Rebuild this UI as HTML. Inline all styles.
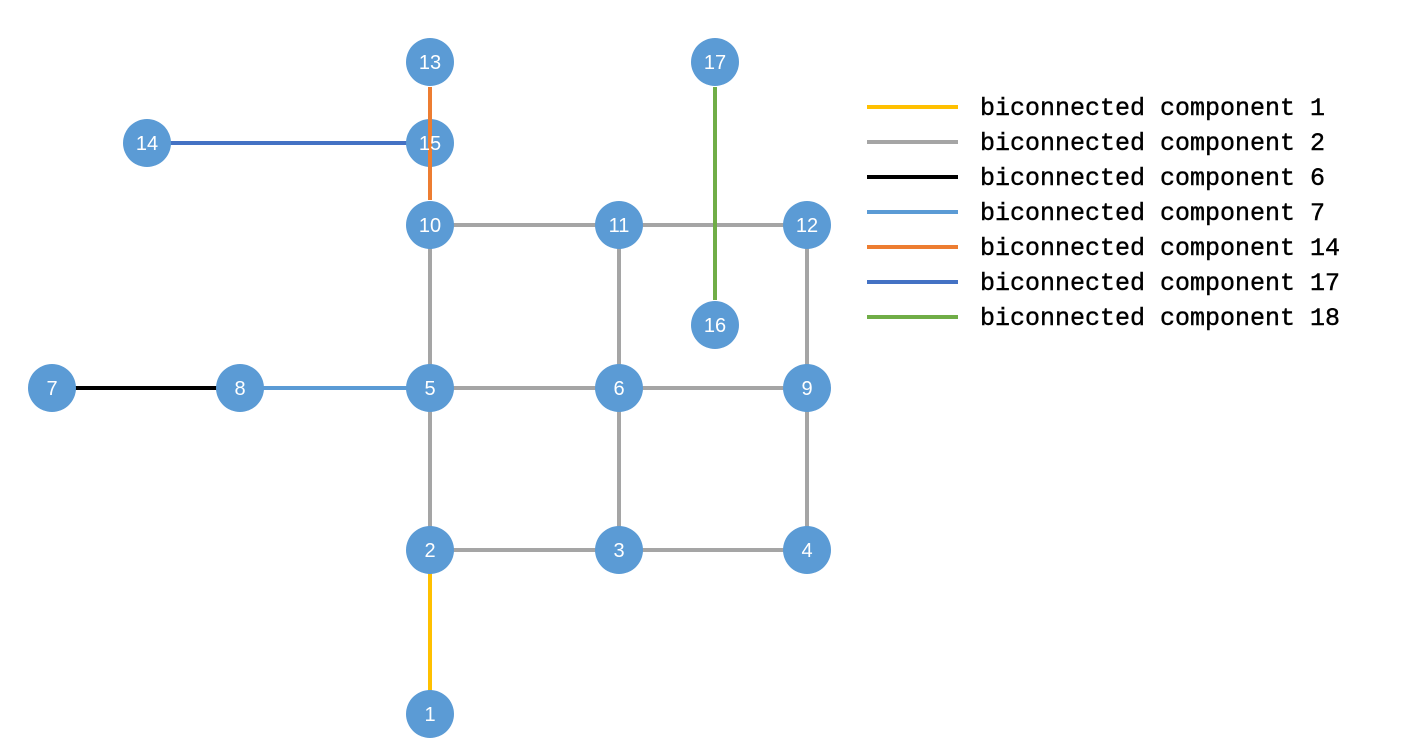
<!DOCTYPE html>
<html><head><style>body{margin:0;background:#fff}</style></head><body>
<svg width="1410" height="746" xmlns="http://www.w3.org/2000/svg">
<g stroke-width="4">
<g stroke="#a5a5a5">
<line x1="430" y1="225" x2="807" y2="225"/>
<line x1="430" y1="225" x2="430" y2="550"/>
<line x1="619" y1="225" x2="619" y2="550"/>
<line x1="807" y1="225" x2="807" y2="550"/>
<line x1="430" y1="388" x2="807" y2="388"/>
<line x1="430" y1="550" x2="807" y2="550"/>
</g>
<line x1="430" y1="550" x2="430" y2="714" stroke="#ffc000"/>
<line x1="52" y1="388" x2="240" y2="388" stroke="#000"/>
<line x1="240" y1="388" x2="430" y2="388" stroke="#5b9bd5"/>
<line x1="147" y1="143" x2="430" y2="143" stroke="#4472c4"/>
</g>
<g fill="#5b9bd5">
<circle cx="430" cy="62" r="24"/><circle cx="715" cy="62" r="24"/>
<circle cx="147" cy="143" r="24"/><circle cx="430" cy="143" r="24"/>
<circle cx="430" cy="225" r="24"/><circle cx="619" cy="225" r="24"/><circle cx="807" cy="225" r="24"/>
<circle cx="715" cy="325" r="24"/>
<circle cx="52" cy="388" r="24"/><circle cx="240" cy="388" r="24"/><circle cx="430" cy="388" r="24"/><circle cx="619" cy="388" r="24"/><circle cx="807" cy="388" r="24"/>
<circle cx="430" cy="550" r="24"/><circle cx="619" cy="550" r="24"/><circle cx="807" cy="550" r="24"/>
<circle cx="430" cy="714" r="24"/>
</g>
<line x1="430" y1="87" x2="430" y2="200" stroke="#ed7d31" stroke-width="4"/>
<line x1="715" y1="87" x2="715" y2="300" stroke="#70ad47" stroke-width="4"/>
<g fill="#fff" font-family="Liberation Sans, sans-serif" font-size="20" text-anchor="middle">
<text x="430" y="69">13</text><text x="715" y="69">17</text>
<text x="147" y="150">14</text><text x="430" y="150">15</text>
<text x="430" y="232">10</text><text x="619" y="232">11</text><text x="807" y="232">12</text>
<text x="715" y="332">16</text>
<text x="52" y="395">7</text><text x="240" y="395">8</text><text x="430" y="395">5</text><text x="619" y="395">6</text><text x="807" y="395">9</text>
<text x="430" y="557">2</text><text x="619" y="557">3</text><text x="807" y="557">4</text>
<text x="430" y="721">1</text>
</g>
<g stroke-width="4">
<line x1="867" y1="107" x2="958" y2="107" stroke="#ffc000"/>
<line x1="867" y1="142" x2="958" y2="142" stroke="#a5a5a5"/>
<line x1="867" y1="177" x2="958" y2="177" stroke="#000"/>
<line x1="867" y1="212" x2="958" y2="212" stroke="#5b9bd5"/>
<line x1="867" y1="247" x2="958" y2="247" stroke="#ed7d31"/>
<line x1="867" y1="282" x2="958" y2="282" stroke="#4472c4"/>
<line x1="867" y1="317" x2="958" y2="317" stroke="#70ad47"/>
</g>
<g font-family="Liberation Mono, monospace" font-size="25" fill="#000" stroke="#000" stroke-width="0.4">
<text x="980" y="115">biconnected component 1</text>
<text x="980" y="150">biconnected component 2</text>
<text x="980" y="185">biconnected component 6</text>
<text x="980" y="220">biconnected component 7</text>
<text x="980" y="255">biconnected component 14</text>
<text x="980" y="290">biconnected component 17</text>
<text x="980" y="325">biconnected component 18</text>
</g>
</svg>
</body></html>
